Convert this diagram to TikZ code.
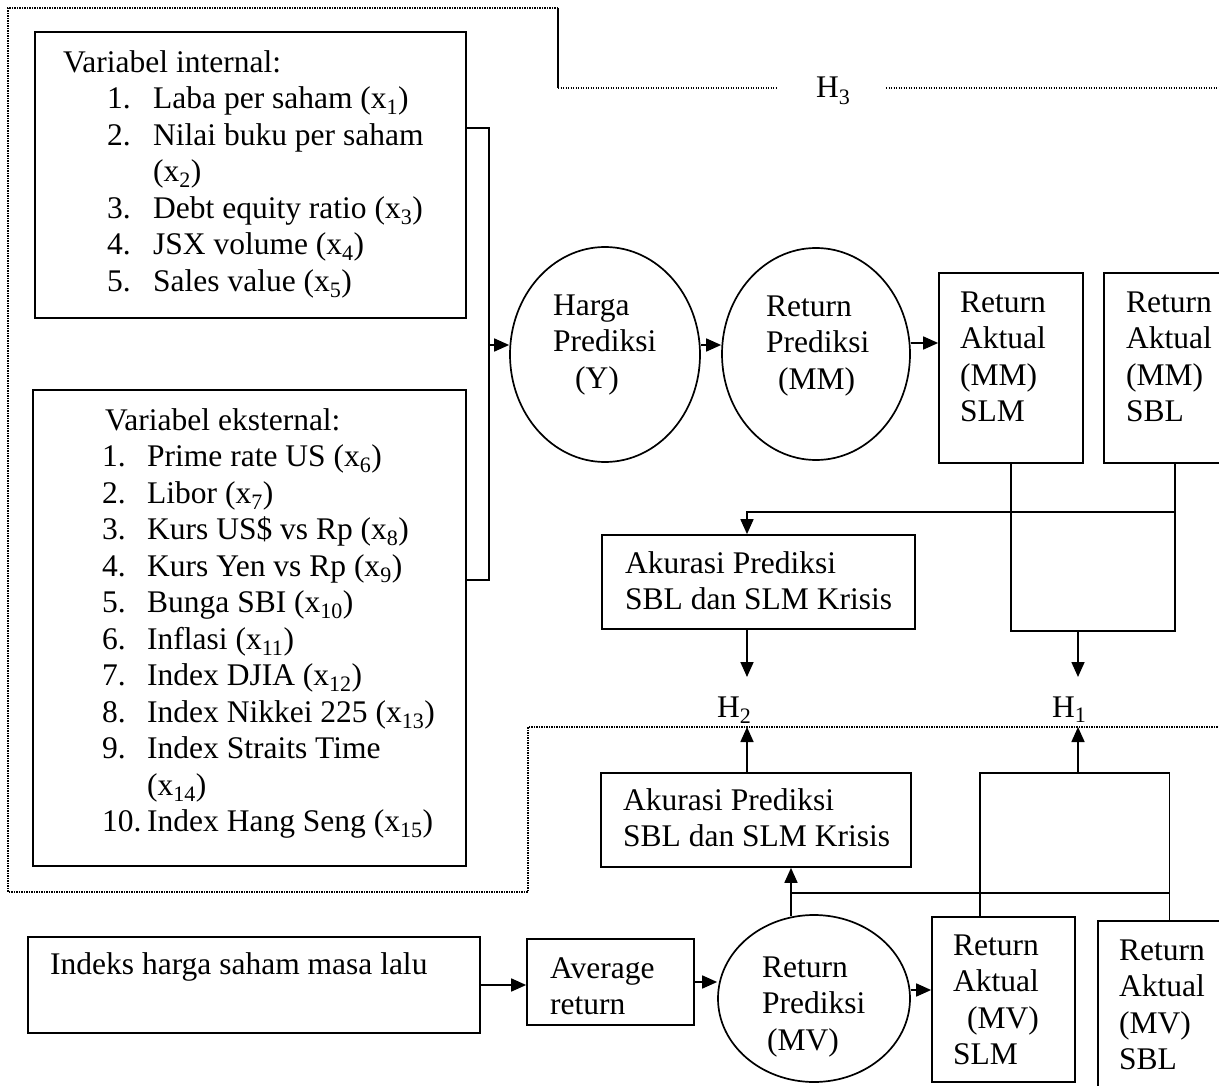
\documentclass[tikz,border=0pt]{standalone}
\usepackage{fontspec}
\setmainfont{Liberation Serif}
\usetikzlibrary{shapes,arrows.meta,positioning,calc}
\newcommand{\diagfont}{\fontsize{31.5}{36.5}\selectfont}
\newcommand{\txtlines}[1]{\begin{tabular}{@{}l@{}}#1\end{tabular}}
\tikzset{
  box/.style={draw, line width=1.7pt, inner sep=0pt},
  oval/.style={draw, ellipse, line width=1.7pt, inner sep=0pt},
  txt/.style={inner sep=0pt, anchor=north west, font=\diagfont},
  arr/.style={line width=1.7pt, -{Triangle[length=15pt, width=13pt]}},
  link/.style={line width=1.7pt},
  dotline/.style={line width=1.1pt, dash pattern=on 1.1pt off 1.4pt}
}
\begin{document}
\begin{tikzpicture}[x=1pt, y=-1pt]
        \useasboundingbox (0,0) rectangle (1219,1086);
        % Define nodes
        \node (internal) [box, minimum width=431pt, minimum height=286pt] at (250.5,175) {};
        \node (external) [box, minimum width=433pt, minimum height=476pt] at (249.5,628) {};
        \node (harga) [oval, minimum width=190pt, minimum height=215pt] at (605,354.5) {};
        \node (retmm) [oval, minimum width=188pt, minimum height=212pt] at (816,354) {};
        \node (mmslm) [box, minimum width=144pt, minimum height=190pt] at (1011,368) {};
        \node (mmsbl) [box, minimum width=142pt, minimum height=190pt] at (1175,368) {};
        \node (akur1) [box, minimum width=313pt, minimum height=94pt] at (758.5,582) {};
        \node (akur2) [box, minimum width=310pt, minimum height=94pt] at (756,820) {};
        \node (indeks) [box, minimum width=452pt, minimum height=96pt] at (254,985) {};
        \node (average) [box, minimum width=167pt, minimum height=86pt] at (610.5,982) {};
        \node (retmv) [oval, minimum width=192pt, minimum height=167pt] at (814,998.5) {};
        \node (mvslm) [box, minimum width=143pt, minimum height=165pt] at (1003.5,999.5) {};
        \node (mvsbl) [box, minimum width=143pt, minimum height=180pt] at (1169.5,1011) {};

        % Texts
        \node (internal_txt) [txt] at (63,46.5) {\begin{tabular}{@{}p{44pt}@{}p{46pt}@{}l@{}}
          \multicolumn{3}{@{}l@{}}{Variabel internal:}\\
          & 1. & Laba per saham (x\textsubscript{1})\\
          & 2. & Nilai buku per saham\\
          &    & (x\textsubscript{2})\\
          & 3. & Debt equity ratio (x\textsubscript{3})\\
          & 4. & JSX volume (x\textsubscript{4})\\
          & 5. & Sales value (x\textsubscript{5})
        \end{tabular}};
        \node (external_txt) [txt] at (102,404.5) {\begin{tabular}{@{}p{45pt}@{}l@{}}
          \multicolumn{2}{@{\hspace{3pt}}l@{}}{Variabel eksternal:}\\
          1.  & Prime rate US (x\textsubscript{6})\\
          2.  & Libor (x\textsubscript{7})\\
          3.  & Kurs US\$ vs Rp (x\textsubscript{8})\\
          4.  & Kurs Yen vs Rp (x\textsubscript{9})\\
          5.  & Bunga SBI (x\textsubscript{10})\\
          6.  & Inflasi (x\textsubscript{11})\\
          7.  & Index DJIA (x\textsubscript{12})\\
          8.  & Index Nikkei 225 (x\textsubscript{13})\\
          9.  & Index Straits Time\\
              & (x\textsubscript{14})\\
          10. & Index Hang Seng (x\textsubscript{15})
        \end{tabular}};
        \node (harga_txt) [txt] at (553,289.5) {\txtlines{Harga\\Prediksi\\\hspace*{22pt}(Y)}};
        \node (retmm_txt) [txt] at (766,290.5) {\txtlines{Return\\Prediksi\\\hspace*{12pt}(MM)}};
        \node (mmslm_txt) [txt] at (960,286.5) {\txtlines{Return\\Aktual\\(MM)\\SLM}};
        \node (mmsbl_txt) [txt] at (1126,286.5) {\txtlines{Return\\Aktual\\(MM)\\SBL}};
        \node (akur1_txt) [txt] at (625,547.5) {\txtlines{Akurasi Prediksi\\SBL dan SLM Krisis}};
        \node (akur2_txt) [txt] at (623,784.5) {\txtlines{Akurasi Prediksi\\SBL dan SLM Krisis}};
        \node (indeks_txt) [txt] at (50,952.5) {Indeks harga saham masa lalu};
        \node (average_txt) [txt] at (550,952.5) {\txtlines{Average\\return}};
        \node (retmv_txt) [txt] at (762,951.5) {\txtlines{Return\\Prediksi\\\hspace*{5pt}(MV)}};
        \node (mvslm_txt) [txt] at (953,929.5) {\txtlines{Return\\Aktual\\\hspace*{14pt}(MV)\\SLM}};
        \node (mvsbl_txt) [txt] at (1119,934.5) {\txtlines{Return\\Aktual\\(MV)\\SBL}};
        \node (h1) [anchor=base west, inner sep=0pt, font=\diagfont] at (1052,717) {H\textsubscript{1}};
        \node (h2) [anchor=base west, inner sep=0pt, font=\diagfont] at (717,717) {H\textsubscript{2}};
        \node (h3) [anchor=base west, inner sep=0pt, font=\diagfont] at (816,98) {H\textsubscript{3}};

        % Coordinates for bends and free ends
        \coordinate (brk) at (489,345);
        \coordinate (akin) at (747,512);
        \coordinate (h1up) at (1078,631);
        \coordinate (h1dn) at (1078,773);
        \coordinate (tiptop) at (1078,677);
        \coordinate (tipbot) at (1078,727);
        \coordinate (mvtop) at (791,916);

        % Draw arrows
        \draw[link] (internal.east |- 0,128) -| (brk) |- (external.east |- 0,580);
        \draw[arr] (brk) -- (brk -| harga.west);
        \draw[arr] (harga.east |- brk) -- (retmm.west |- brk);
        \draw[arr] (retmm.east |- 0,343) -- (mmslm.west |- 0,343);
        \draw[link] (mmslm.south) |- (h1up) -| (mmsbl.south);
        \draw[arr] (h1up) -- (tiptop);
        \draw[arr] (mmsbl.south |- akin) -- (akin) -- (akin |- akur1.north);
        \draw[arr] (akur1.south -| akin) -- (akin |- tiptop);
        \draw[arr] (akur2.north -| akin) -- (akin |- tipbot);
        \draw[link] ([xshift=-23.5pt]mvslm.north) |- (h1dn) -| (mvsbl.north);
        \draw[arr] (h1dn) -- (tipbot);
        \draw[arr] (mvtop) -- (mvtop |- akur2.south);
        \draw[link] (mvsbl.north |- 0,893) -- (mvtop |- 0,893);
        \draw[arr] (indeks.east) -- (indeks.east -| average.west);
        \draw[arr] (average.east) -- (average.east -| retmv.west);
        \draw[arr] (retmv.east |- 0,990) -- (mvslm.west |- 0,990);

        % Dotted frame
        \draw[link] (558,8) -- (558,88);
        \draw[dotline] (558,88) -- (777,88);
        \draw[dotline] (886,88) -- (1219,88);
        \draw[dotline] (558,8) -- (8,8) -- (8,892) -- (528,892) -- (528,727) -- (1219,727);
    \end{tikzpicture}
\end{document}
